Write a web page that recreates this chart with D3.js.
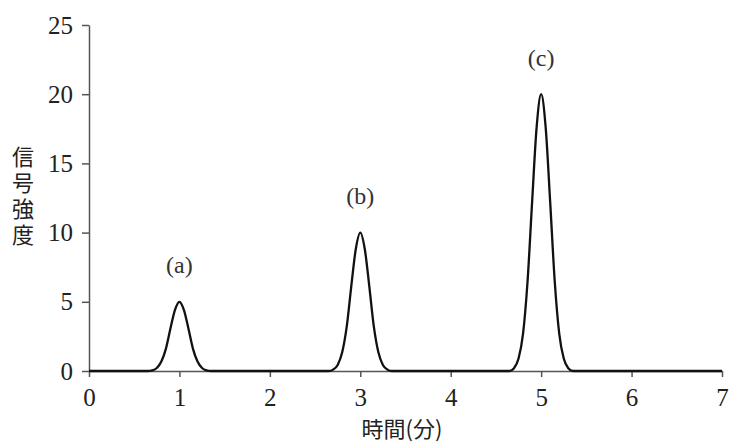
<!DOCTYPE html>
<html lang="ja">
<head>
    <meta charset="utf-8">
    <title>信号強度</title>
    <script src="https://d3js.org/d3.v7.min.js"></script>
    <style>
        body { margin: 0; background: #fff; }
        .axis path, .axis line { stroke: #555; stroke-width: 1.5; }
        .peaklabel { font-family: 'Liberation Serif', serif; font-size: 24px; fill: #333; }
        .title { font-family: 'Noto Sans CJK JP', sans-serif; font-size: 22px; fill: #222; }
    </style>
</head>
<body>
<script>
// data
var xTicks = [0, 1, 2, 3, 4, 5, 6, 7];
var yTicks = [0, 5, 10, 15, 20, 25];

var peakNames = ["(a)", "(b)", "(c)"];
var peakTimes = [1, 3, 5];
var peakHeights = [5, 10, 20];

var time = [0,
    0.65, 0.7, 0.75, 0.8, 0.85, 0.9, 0.95, 1, 1.05, 1.1, 1.15, 1.2, 1.25, 1.3, 1.35,
    2.65, 2.7, 2.75, 2.8, 2.85, 2.9, 2.95, 3, 3.05, 3.1, 3.15, 3.2, 3.25, 3.3, 3.35,
    4.65, 4.7, 4.75, 4.8, 4.85, 4.9, 4.95, 5, 5.05, 5.1, 5.15, 5.2, 5.25, 5.3, 5.35,
    7];
var signal = [0,
    0, 0.05, 0.22, 0.68, 1.6, 3.05, 4.4, 5, 4.4, 3.05, 1.6, 0.68, 0.22, 0.05, 0,
    0, 0.1, 0.44, 1.35, 3.2, 6.1, 8.8, 10, 8.8, 6.1, 3.2, 1.35, 0.44, 0.1, 0,
    0, 0.2, 0.9, 2.7, 6.5, 12.2, 17.6, 20, 17.6, 12.2, 6.5, 2.7, 0.9, 0.2, 0,
    0];

var width = 729, height = 445;
var margin = { top: 25, right: 7, bottom: 74, left: 89 };

var svg = d3.select("body").append("svg")
    .attr("width", width)
    .attr("height", height);

var x = d3.scaleLinear().domain([0, 7]).range([margin.left, width - margin.right]);
var y = d3.scaleLinear().domain([0, 25]).range([height - margin.bottom, margin.top]);

// x axis
svg.append("g")
    .attr("class", "axis")
    .attr("transform", "translate(0," + y(0) + ")")
    .call(d3.axisBottom(x).tickValues(xTicks).tickFormat(d3.format("d"))
        .tickSize(6).tickSizeOuter(0).tickPadding(11));

// y axis
svg.append("g")
    .attr("class", "axis")
    .attr("transform", "translate(" + x(0) + ",0)")
    .call(d3.axisLeft(y).tickValues(yTicks).tickFormat(d3.format("d"))
        .tickSize(7).tickSizeOuter(0).tickPadding(9));

svg.selectAll(".axis text")
    .style("font-family", "'Liberation Serif', serif")
    .style("font-size", "25px")
    .style("fill", "#222");

// curve
var line = d3.line()
    .x(function (d, i) { return x(time[i]); })
    .y(function (d) { return y(d); })
    .curve(d3.curveMonotoneX);

svg.append("path")
    .datum(signal)
    .attr("d", line)
    .attr("fill", "none")
    .attr("stroke", "#111")
    .attr("stroke-width", 2.3);

// peak labels
svg.selectAll(".peaklabel")
    .data(peakNames)
    .enter()
    .append("text")
    .attr("class", "peaklabel")
    .attr("text-anchor", "middle")
    .attr("x", function (d, i) { return x(peakTimes[i]); })
    .attr("y", function (d, i) { return y(peakHeights[i]) - 37; })
    .attr("dy", "0.35em")
    .text(function (d) { return d; });

// axis titles
svg.append("text")
    .attr("class", "title")
    .attr("text-anchor", "middle")
    .attr("x", 402)
    .attr("y", 437)
    .text("時間(分)");

svg.append("text")
    .attr("class", "title")
    .attr("x", 23)
    .attr("y", 146)
    .style("writing-mode", "vertical-rl")
    .style("letter-spacing", "4px")
    .text("信号強度");
</script>
</body>
</html>
